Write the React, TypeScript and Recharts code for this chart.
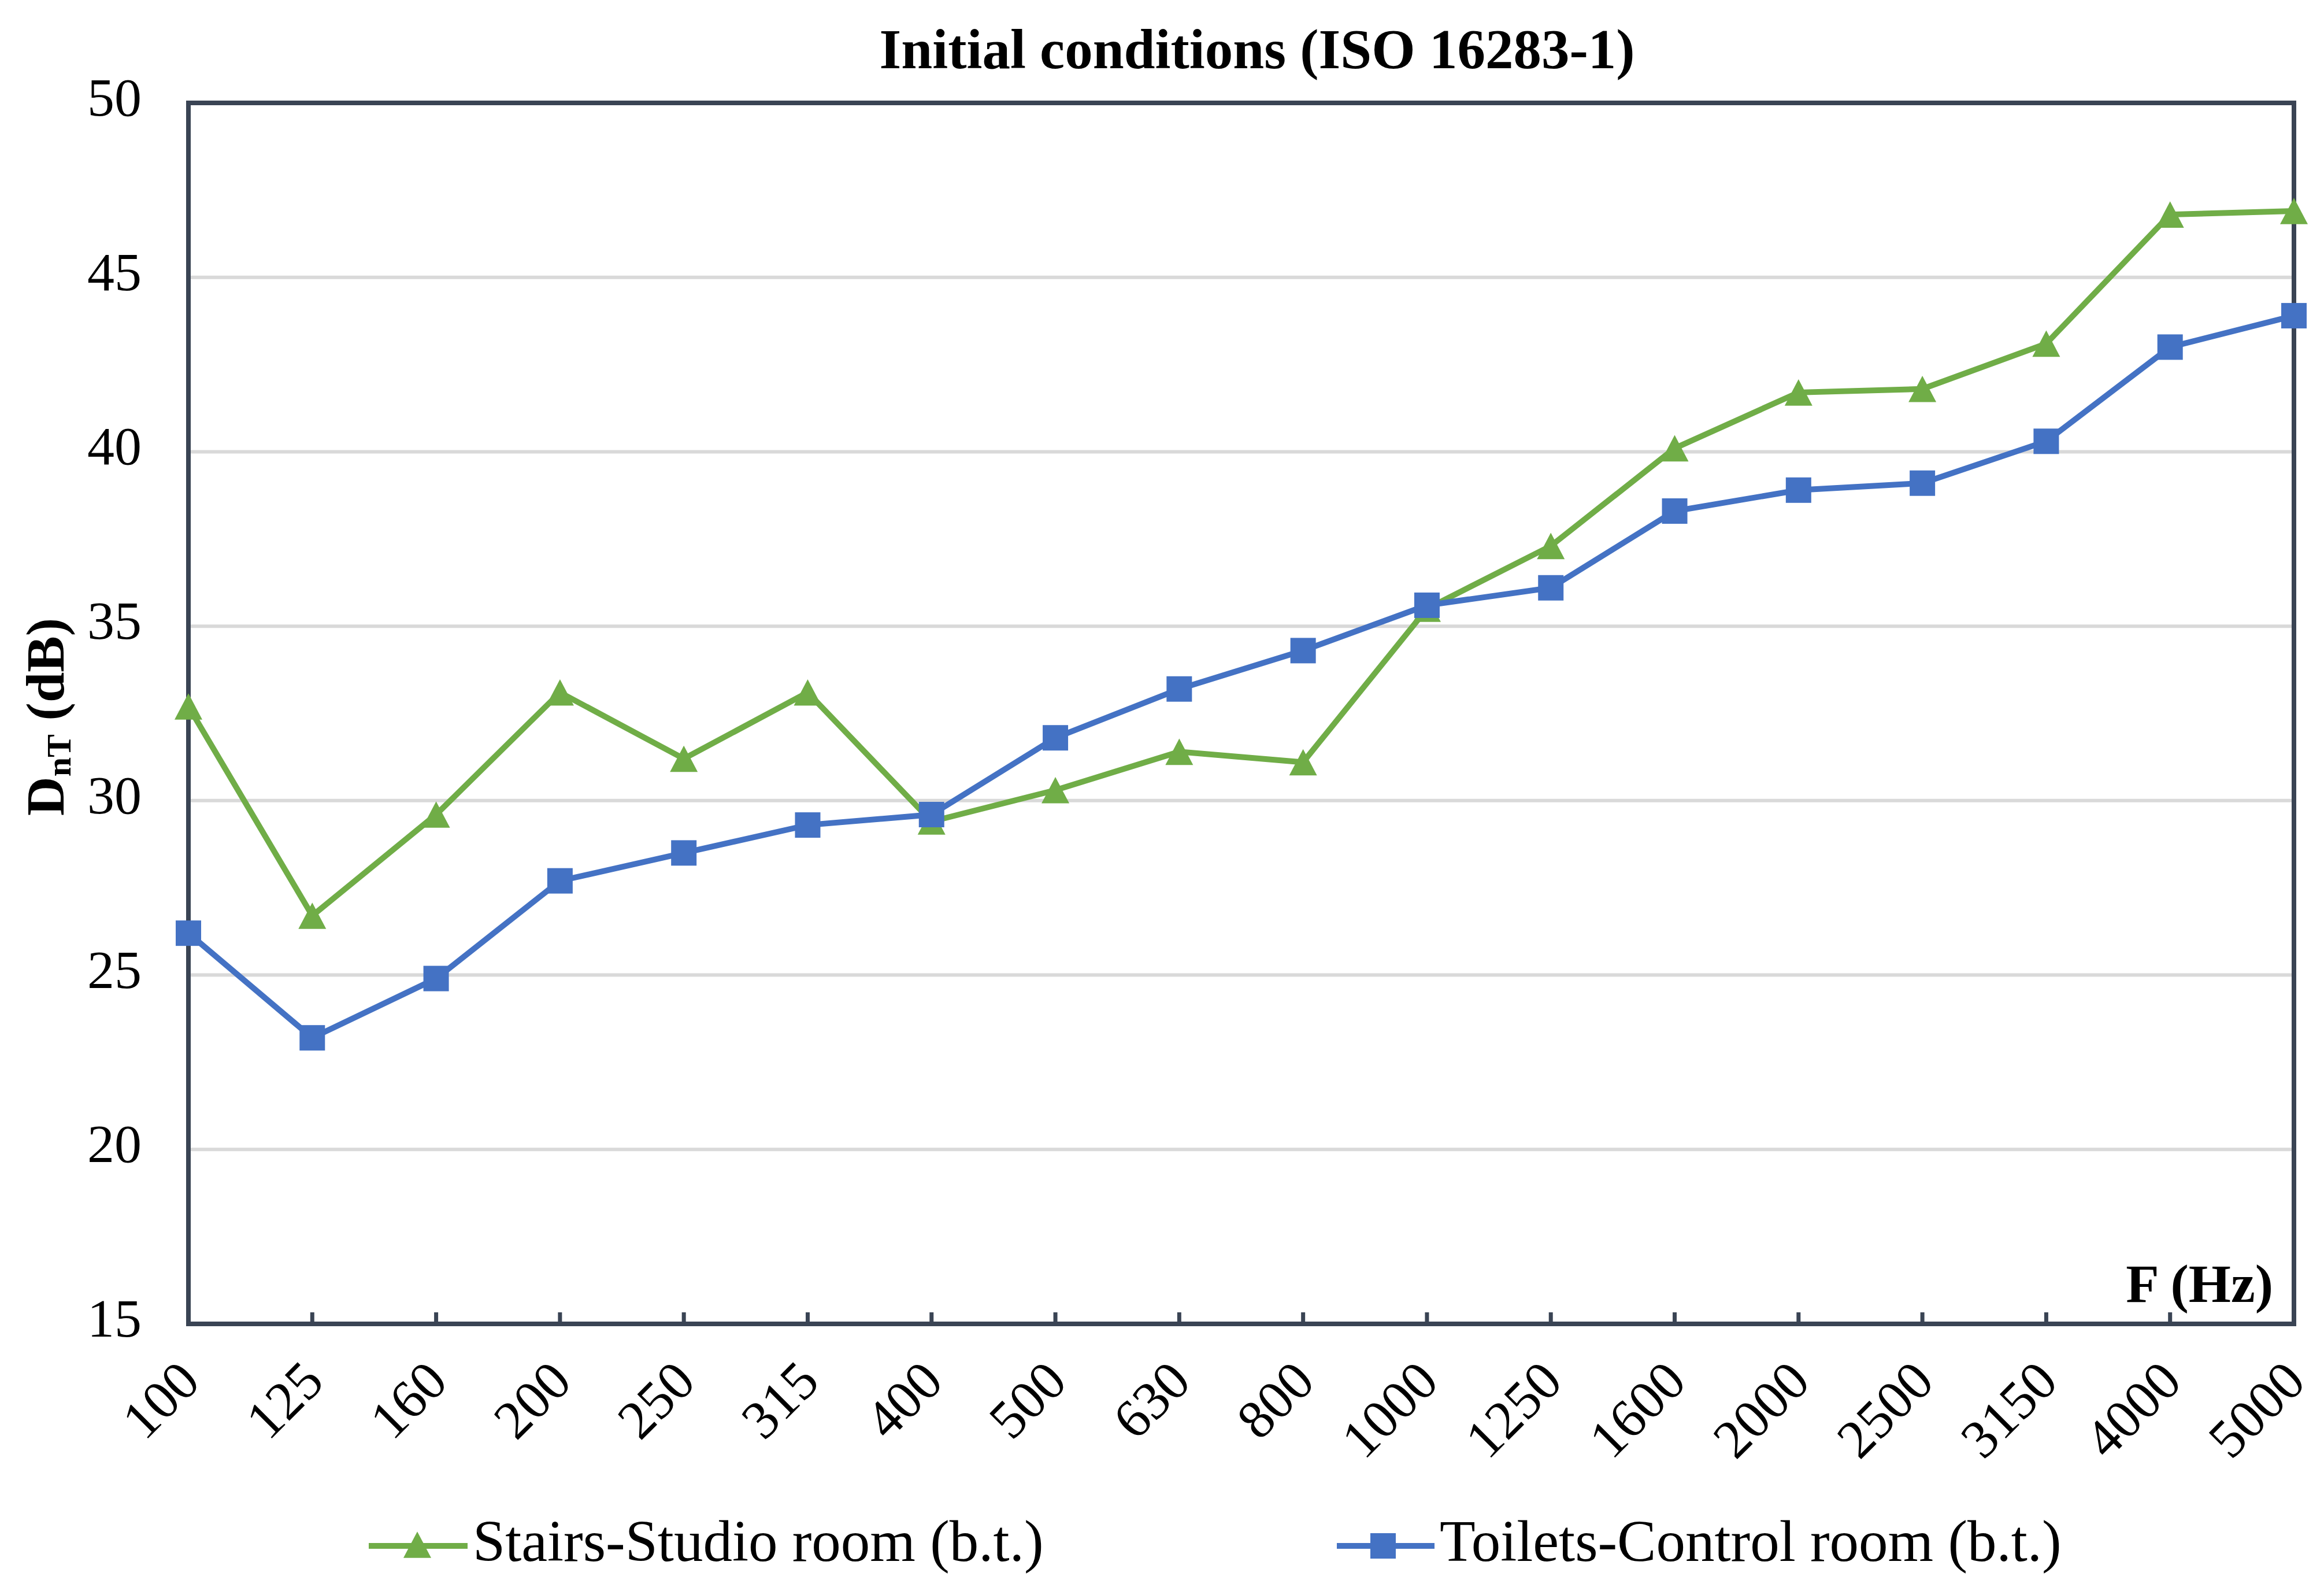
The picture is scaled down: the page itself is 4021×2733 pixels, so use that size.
import React from "react";
import { LineChart, Line, XAxis, YAxis, CartesianGrid, ReferenceArea } from "recharts";

// one-third octave bands, Hz
const FREQS = [
  "100", "125", "160", "200", "250", "315", "400", "500", "630",
  "800", "1000", "1250", "1600", "2000", "2500", "3150", "4000", "5000",
];

// DnT in dB
const STAIRS_STUDIO = [
  32.7, 26.7, 29.6, 33.1, 31.2, 33.1, 29.4, 30.3, 31.4,
  31.1, 35.5, 37.3, 40.1, 41.7, 41.8, 43.1, 46.8, 46.9,
];
const TOILETS_CONTROL = [
  26.2, 23.2, 24.9, 27.7, 28.5, 29.3, 29.6, 31.8, 33.2,
  34.3, 35.6, 36.1, 38.3, 38.9, 39.1, 40.3, 43.0, 43.9,
];

const Y_TICKS = [15, 20, 25, 30, 35, 40, 45, 50];

const SERIES_NAMES = ["Stairs-Studio room (b.t.)", "Toilets-Control room (b.t.)"];

const GREEN = "#70ad47";
const BLUE = "#4472c4";
const AXIS = "#3a4454";
const GRID = "#d9d9d9";
const FONT = "'Liberation Serif', 'Times New Roman', serif";

const W = 4021;
const H = 2733;

const data = FREQS.map((f, i) => ({ f, stairs: STAIRS_STUDIO[i], toilets: TOILETS_CONTROL[i] }));

function Triangle({ cx, cy, color, size = 48 }: any) {
  const h = size * 0.95;
  return (
    <polygon
      points={`${cx},${cy - h / 2} ${cx + size / 2},${cy + h / 2} ${cx - size / 2},${cy + h / 2}`}
      fill={color}
    />
  );
}

function Square({ cx, cy, color, size = 44 }: any) {
  return <rect x={cx - size / 2} y={cy - size / 2} width={size} height={size} fill={color} />;
}

function XTick({ x, y, payload }: any) {
  return (
    <g>
      <line x1={x} x2={x} y1={y} y2={y - 20} stroke={AXIS} strokeWidth={7} />
      <text
        transform={`translate(${x + 24},${y + 104}) rotate(-45)`}
        textAnchor="end"
        fontSize={94}
        fontFamily={FONT}
        fill="#000"
      >
        {payload.value}
      </text>
    </g>
  );
}

function YTick({ x, y, payload }: any) {
  return (
    <text x={x} y={y + 22} textAnchor="end" fontSize={94} fontFamily={FONT} fill="#000">
      {payload.value}
    </text>
  );
}

export default function App() {
  return (
    <div style={{ position: "fixed", left: 0, top: 0, width: W, height: H, background: "#fff", fontFamily: FONT }}>
      <LineChart width={W} height={H} data={data} margin={{ top: 178, right: 52, left: 126, bottom: 143 }}>
        <CartesianGrid vertical={false} stroke={GRID} strokeWidth={6} />
        <XAxis
          dataKey="f"
          height={300}
          padding={{ left: 0, right: 0 }}
          axisLine={{ stroke: AXIS, strokeWidth: 8 }}
          tickLine={false}
          tickSize={0}
          tickMargin={0}
          interval={0}
          tick={<XTick />}
        />
        <YAxis
          type="number"
          domain={[15, 50]}
          ticks={Y_TICKS}
          width={200}
          axisLine={{ stroke: AXIS, strokeWidth: 8 }}
          tickLine={false}
          tickSize={0}
          tickMargin={81}
          tick={<YTick />}
        />
        <ReferenceArea
          x1={FREQS[0]}
          x2={FREQS[FREQS.length - 1]}
          y1={15}
          y2={50}
          fill="none"
          fillOpacity={0}
          stroke={AXIS}
          strokeWidth={8}
          ifOverflow="visible"
        />
        <Line
          dataKey="stairs"
          name={SERIES_NAMES[0]}
          stroke={GREEN}
          strokeWidth={10}
          isAnimationActive={false}
          dot={(p: any) => <Triangle key={`t${p.index}`} cx={p.cx} cy={p.cy} color={GREEN} />}
          activeDot={false}
        />
        <Line
          dataKey="toilets"
          name={SERIES_NAMES[1]}
          stroke={BLUE}
          strokeWidth={10}
          isAnimationActive={false}
          dot={(p: any) => <Square key={`s${p.index}`} cx={p.cx} cy={p.cy} color={BLUE} />}
          activeDot={false}
        />
      </LineChart>

      {/* title, axis names and legend on top of the chart */}
      <svg width={W} height={H} style={{ position: "absolute", left: 0, top: 0, pointerEvents: "none" }}>
        <text x={2175} y={118} textAnchor="middle" fontSize={97} fontWeight="bold" fontFamily={FONT} fill="#000">
          Initial conditions (ISO 16283-1)
        </text>
        <text
          transform="translate(110,1240) rotate(-90)"
          textAnchor="middle"
          fontSize={94}
          fontWeight="bold"
          fontFamily={FONT}
          fill="#000"
        >
          D<tspan fontSize={60} dy={12}>nT</tspan>
          <tspan dy={-12}> (dB)</tspan>
        </text>
        <text x={3933} y={2252} textAnchor="end" fontSize={94} fontWeight="bold" fontFamily={FONT} fill="#000">
          F (Hz)
        </text>

        <line x1={638} x2={809} y1={2674} y2={2674} stroke={GREEN} strokeWidth={10} />
        <Triangle cx={722} cy={2672} color={GREEN} />
        <text x={818} y={2700} fontSize={101} fontFamily={FONT} fill="#000">{SERIES_NAMES[0]}</text>

        <line x1={2313} x2={2482} y1={2674} y2={2674} stroke={BLUE} strokeWidth={10} />
        <Square cx={2393} cy={2674} color={BLUE} />
        <text x={2491} y={2700} fontSize={101} fontFamily={FONT} fill="#000">{SERIES_NAMES[1]}</text>
      </svg>
    </div>
  );
}
